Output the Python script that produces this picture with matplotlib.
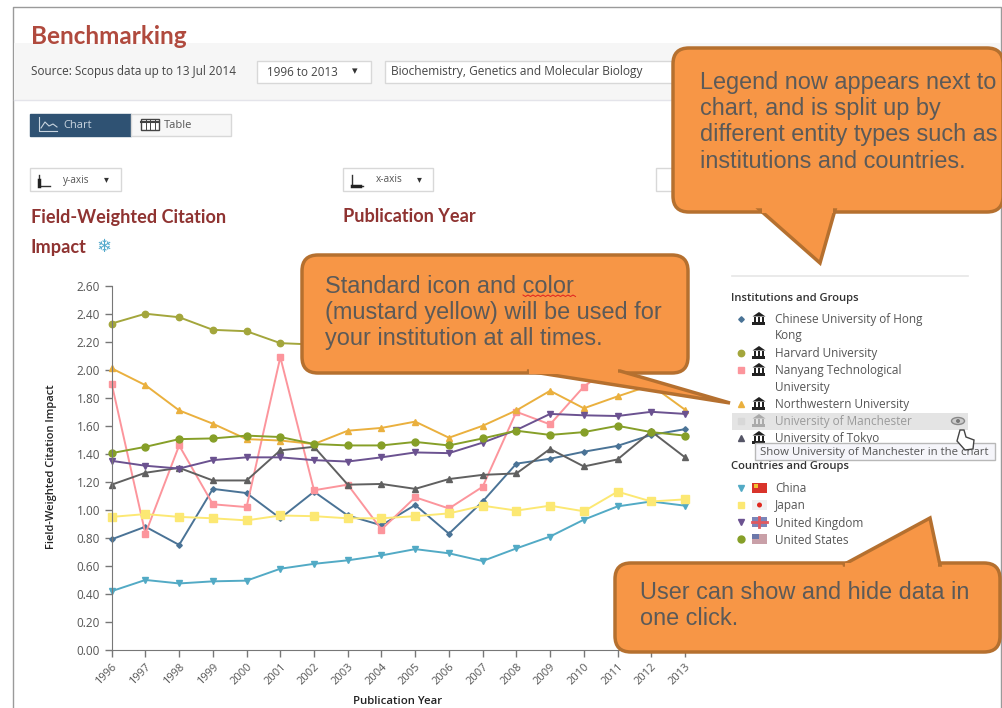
import numpy as np
import matplotlib
matplotlib.use('Agg')
import matplotlib.pyplot as plt
from matplotlib.patches import Rectangle, FancyBboxPatch, Polygon, Ellipse

W, H = 1003, 708
nan = float('nan')

years = list(range(1996, 2014))
y_ticks = [0.0, 0.2, 0.4, 0.6, 0.8, 1.0, 1.2, 1.4, 1.6, 1.8, 2.0, 2.2, 2.4, 2.6]

hong_kong = [.79, .88, .75, 1.15, 1.12, .94, 1.13, .96, .89, 1.035, .83, 1.06, 1.33, 1.365, 1.415, 1.457, 1.535, 1.576]
# harvard and nanyang run behind the callout, those years can't be read
harvard = [2.33, 2.40, 2.375, 2.285, 2.275, 2.19, 2.18, nan, nan, nan, nan, nan, nan, nan, nan, nan, nan, nan]
nanyang = [1.90, .83, 1.46, 1.04, 1.02, 2.09, 1.14, 1.18, .86, 1.09, 1.01, 1.165, 1.70, 1.61, 1.88, 2.05, nan, nan]
northwestern = [2.01, 1.89, 1.71, 1.615, 1.505, 1.495, 1.47, 1.565, 1.585, 1.63, 1.515, 1.60, 1.71, 1.85, 1.725, 1.81, 1.89, 1.715]
tokyo = [1.18, 1.265, 1.30, 1.21, 1.21, 1.425, 1.45, 1.18, 1.185, 1.15, 1.22, 1.25, 1.26, 1.435, 1.31, 1.36, 1.56, 1.375]
china = [.42, .50, .475, .49, .495, .58, .615, .64, .675, .72, .69, .635, .725, .81, .93, 1.025, 1.06, 1.03]
japan = [.95, .97, .95, .94, .925, .96, .955, .94, .94, .955, .975, 1.03, .995, 1.03, .99, 1.13, 1.06, 1.075]
uk = [1.35, 1.315, 1.295, 1.355, 1.375, 1.375, 1.355, 1.345, 1.375, 1.41, 1.405, 1.48, 1.57, 1.685, 1.675, 1.67, 1.70, 1.685]
us = [1.405, 1.45, 1.505, 1.51, 1.53, 1.52, 1.47, 1.46, 1.46, 1.485, 1.46, 1.51, 1.565, 1.535, 1.555, 1.60, 1.555, 1.53]

institutions = ['Chinese University of Hong\nKong', 'Harvard University', 'Nanyang Technological\nUniversity',
                'Northwestern University', 'University of Manchester', 'University of Tokyo']
countries = ['China', 'Japan', 'United Kingdom', 'United States']

plt.rcParams['font.family'] = ['Open Sans', 'DejaVu Sans']

fig = plt.figure(figsize=(W / 100, H / 100), dpi=100)

# page layer in pixel coordinates, y going down like the screenshot
bg = fig.add_axes([0, 0, 1, 1], zorder=0)
bg.set_xlim(0, W)
bg.set_ylim(H, 0)
bg.axis('off')

# the chart
ax = fig.add_axes([111.7 / W, 1 - 650 / H, (685 - 111.7) / W, (650 - 285.7) / H], zorder=1)
ax.patch.set_alpha(0)
styles = [
    (hong_kong, '#4a7396', 'D', 2.8),
    (harvard, '#a3a63c', 'o', 4.6),
    (nanyang, '#fc959c', 's', 5),
    (northwestern, '#eab03e', '^', 4.2),
    (tokyo, '#606060', '^', 4.2),
    (china, '#52aac5', 'v', 4.2),
    (japan, '#fce873', 's', 5.2),
    (uk, '#6b5290', 'v', 4.2),
    (us, '#869f28', 'o', 5),
]
for vals, col, mk, ms in styles:
    ax.plot(years, vals, color=col, marker=mk, ms=ms, lw=1.4, mec=col, clip_on=False)
ax.set_xlim(1996, 2013)
ax.set_ylim(0, 2.6)
ax.set_xticks(years)
ax.set_xticklabels(years, rotation=45, ha='right', rotation_mode='anchor', fontsize=8, color='#555555')
ax.set_yticks(y_ticks)
ax.set_yticklabels(['%.2f' % v for v in y_ticks], fontsize=8.5, color='#555555')
ax.tick_params(length=5, color='#777777', width=1)
for s in ['top', 'right']:
    ax.spines[s].set_visible(False)
for s in ['left', 'bottom']:
    ax.spines[s].set_color('#777777')

# top layer for callouts etc
fg = fig.add_axes([0, 0, 1, 1], zorder=2)
fg.set_xlim(0, W)
fg.set_ylim(H, 0)
fg.axis('off')
fg.patch.set_alpha(0)


def box(a, x, y, w, h, fc='white', ec='#d8d8d8', lw=1, z=2):
    a.add_patch(Rectangle((x, y), w, h, fc=fc, ec=ec, lw=lw, zorder=z))


def museum(a, x, y, col='#222222'):
    # little building icon
    a.add_patch(Polygon([(x - 6.5, y - 2.5), (x, y - 7), (x + 6.5, y - 2.5)], fc=col, ec='none', zorder=4))
    for dx in (-5, -1.2, 2.6):
        a.add_patch(Rectangle((x + dx, y - 2.5), 2.4, 5.5, fc=col, ec='none', zorder=4))
    a.add_patch(Rectangle((x - 6.5, y + 3), 13, 2.5, fc=col, ec='none', zorder=4))


def callout(x, y, w, h, tail, text, tx, ty):
    rad = 16
    fg.add_patch(FancyBboxPatch((x + rad, y + rad), w - 2 * rad, h - 2 * rad, boxstyle='round,pad=%d,rounding_size=%d' % (rad, rad),
                                fc='#f79646', ec='#b5702f', lw=2.5, zorder=5))
    fg.add_patch(Polygon(tail, closed=True, fc='#f79646', ec='#b5702f', lw=2.5, zorder=5, joinstyle='miter'))
    # hide tail base inside the box
    inner = tail[:1] + tail[-1:]
    xs = [p[0] for p in inner]
    ys = [p[1] for p in inner]
    if ys[0] > y + h / 2:
        fg.add_patch(Rectangle((min(xs) + 2, y + h - 8), max(xs) - min(xs) - 4, 8.5, fc='#f79646', ec='none', zorder=6))
    else:
        fg.add_patch(Rectangle((min(xs) + 2, y - .5), max(xs) - min(xs) - 4, 8.5, fc='#f79646', ec='none', zorder=6))
    fg.text(tx, ty, text, fontsize=16.9, family='Liberation Sans', color='#5c5a58', va='top', linespacing=1.18, zorder=7)


# page frame and header
bg.plot([13, 13, 1001, 1001], [708, 7, 7, 708], color='#9a9a9a', lw=1)
box(bg, 14, 43, 986, 57, fc='#f6f6f6', ec='none')
bg.plot([14, 1000], [100, 100], color='#e4e4ea', lw=1)
bg.text(31, 36, 'Benchmarking', fontsize=17.5, family='Lato', weight='bold', color='#b04a3e', va='center')
bg.text(31, 72, 'Source: Scopus data up to 13 Jul 2014', fontsize=8.5, color='#444444', va='center')
box(bg, 257, 61, 114, 22)
bg.text(267, 72, '1996 to 2013', fontsize=8.4, color='#444444', va='center')
bg.text(352, 72, '▾', fontsize=8, color='#333333', va='center')
box(bg, 385, 61, 300, 22)
bg.text(391, 72, 'Biochemistry, Genetics and Molecular Biology', fontsize=8.6, color='#444444', va='center')

box(bg, 30, 114, 101, 22, fc='#2f5273', ec='#2f5273')
box(bg, 131, 114, 100, 22, fc='#f7f7f7')
bg.text(63, 125, 'Chart', fontsize=8, color='#c8d4df', va='center')
bg.plot([39, 39, 57], [117, 131, 131], color='#c8d4df', lw=.8)
bg.plot([41, 45, 49, 53, 57], [128, 122, 126, 124, 127], color='#c8d4df', lw=.8)
box(bg, 141, 119, 18, 11, fc='white', ec='#444444')
bg.plot([141, 159], [122, 122], color='#444444', lw=1.5)
for gx in (146, 150, 155):
    bg.plot([gx, gx], [119, 130], color='#444444', lw=.7)
bg.text(164, 125, 'Table', fontsize=8, color='#555555', va='center')

box(bg, 30, 168, 91, 23)
bg.plot([39, 39, 50], [175, 186, 186], color='#333333', lw=1)
bg.plot([39, 39], [180, 186], color='#222222', lw=2.5)
bg.text(63, 180, 'y-axis', fontsize=7.2, color='#555555', va='center')
bg.text(104, 180, '▾', fontsize=7, color='#333333', va='center')
box(bg, 343, 168, 90, 23)
bg.plot([352, 352, 363], [175, 186, 186], color='#333333', lw=1)
bg.plot([352, 360], [186, 186], color='#222222', lw=2.5)
bg.text(376, 180, 'x-axis', fontsize=7.2, color='#555555', va='center')
bg.text(417, 180, '▾', fontsize=7, color='#333333', va='center')
box(bg, 656, 168, 40, 23)

bg.text(31, 217, 'Field-Weighted Citation', fontsize=13.1, family='Lato', weight='bold', color='#8f3331', va='center')
bg.text(31, 247, 'Impact', fontsize=13.1, family='Lato', weight='bold', color='#8f3331', va='center')
bg.text(96, 247, '❄', fontsize=13, family='DejaVu Sans', color='#55aacc', va='center')
bg.text(343, 217, 'Publication Year', fontsize=13.1, family='Lato', weight='bold', color='#8f3331', va='center')

bg.text(52, 467, 'Field-Weighted Citation Impact', fontsize=8, weight='semibold', color='#222222', rotation=90, ha='center', va='center')
bg.text(398, 702, 'Publication Year', fontsize=8.2, weight='semibold', color='#222222', ha='center', va='center')

# legend
bg.plot([732, 968], [276, 276], color='#e6e6e6', lw=1.2)
bg.text(731, 298, 'Institutions and Groups', fontsize=8.1, weight='semibold', color='#333333', va='center')
box(bg, 732, 413, 236, 17, fc='#e4e4e4', ec='none', z=1)

inst_y = [319, 353, 370, 404, 421, 438]
inst_mk = [('D', '#4a7396', 2.8), ('o', '#a3a63c', 4.6), ('s', '#fc959c', 5), ('^', '#eab03e', 5), ('s', '#d8d8d8', 5), ('^', '#555566', 4.6)]
for name, yy, (mk, col, ms) in zip(institutions, inst_y, inst_mk):
    grey = name == 'University of Manchester'
    bg.plot([741], [yy], marker=mk, color=col, ms=ms, mec=col, zorder=4)
    museum(bg, 759, yy, '#aaaaaa' if grey else '#222222')
    bg.text(775, yy - 6, name, fontsize=8.5, color='#9a9a9a' if grey else '#555555', va='top', linespacing=1.35, zorder=4)
bg.add_patch(Ellipse((958, 421), 13, 7, fc='#cccccc', ec='#888888', lw=1, zorder=4))
bg.add_patch(Ellipse((958, 421), 4, 4, fc='#777777', ec='none', zorder=4))

bg.text(731, 467, 'Countries and Groups', fontsize=8.1, weight='semibold', color='#333333', va='center')
ctry_y = [488, 505, 522, 539]
ctry_mk = [('v', '#52aac5', 4.6), ('s', '#fce873', 5), ('v', '#6b5290', 4.6), ('o', '#869f28', 5)]
flag_base = ['#d9342b', '#f0f0f0', '#7c86b8', '#c9a0a8']
flag_mark = ['#f2c230', '#e0281e', '#e05a60', '#6c78aa']
for name, yy, (mk, col, ms), fb, fm in zip(countries, ctry_y, ctry_mk, flag_base, flag_mark):
    bg.plot([741], [yy], marker=mk, color=col, ms=ms, mec=col, zorder=4)
    box(bg, 752, yy - 5, 15, 10, fc=fb, ec='none', z=4)
    if name == 'Japan':
        bg.add_patch(Ellipse((759.5, yy), 5, 5, fc=fm, ec='none', zorder=5))
    elif name == 'United Kingdom':
        bg.plot([752, 767], [yy, yy], color=fm, lw=2, zorder=5)
        bg.plot([759.5, 759.5], [yy - 5, yy + 5], color=fm, lw=2, zorder=5)
    elif name == 'United States':
        box(bg, 752, yy - 5, 7, 5, fc=fm, ec='none', z=5)
    else:
        box(bg, 754, yy - 4, 4, 4, fc=fm, ec='none', z=5)
    bg.text(775, yy + 1, name, fontsize=8.5, color='#555555', va='center', zorder=4)

# tooltip and hand cursor sit above the legend
box(fg, 755, 443, 240, 17, fc='#f5f5fa', ec='#b8b8b8', z=3)
fg.text(760, 452, 'Show University of Manchester in the chart', fontsize=8.2, color='#555555', va='center', zorder=4)
fg.add_patch(Polygon([(960, 430), (964, 430), (966, 437), (974, 440), (973, 449), (965, 450), (957, 441)],
                     fc='white', ec='#444444', lw=1, zorder=4))

callout(673, 48, 330, 164, [(760, 210), (820, 263), (835, 210)],
        'Legend now appears next to\nchart, and is split up by\ndifferent entity types such as\ninstitutions and countries.', 700, 71)
callout(302, 255, 386, 118, [(527, 371), (730, 403), (620, 371)],
        'Standard icon and color\n(mustard yellow) will be used for\nyour institution at all times.', 325, 275)
callout(615, 563, 385, 89, [(843, 565), (930, 518), (940, 565)],
        'User can show and hide data in\none click.', 640, 581)

# red spell check squiggle under "color"
sq_x = np.arange(523, 576, 2.5)
sq_y = 295 + np.where(np.arange(len(sq_x)) % 2 == 0, 0, 1.5)
fg.plot(sq_x, sq_y, color='#e02020', lw=.7, zorder=8)

fig.savefig('out.png', dpi=100)
